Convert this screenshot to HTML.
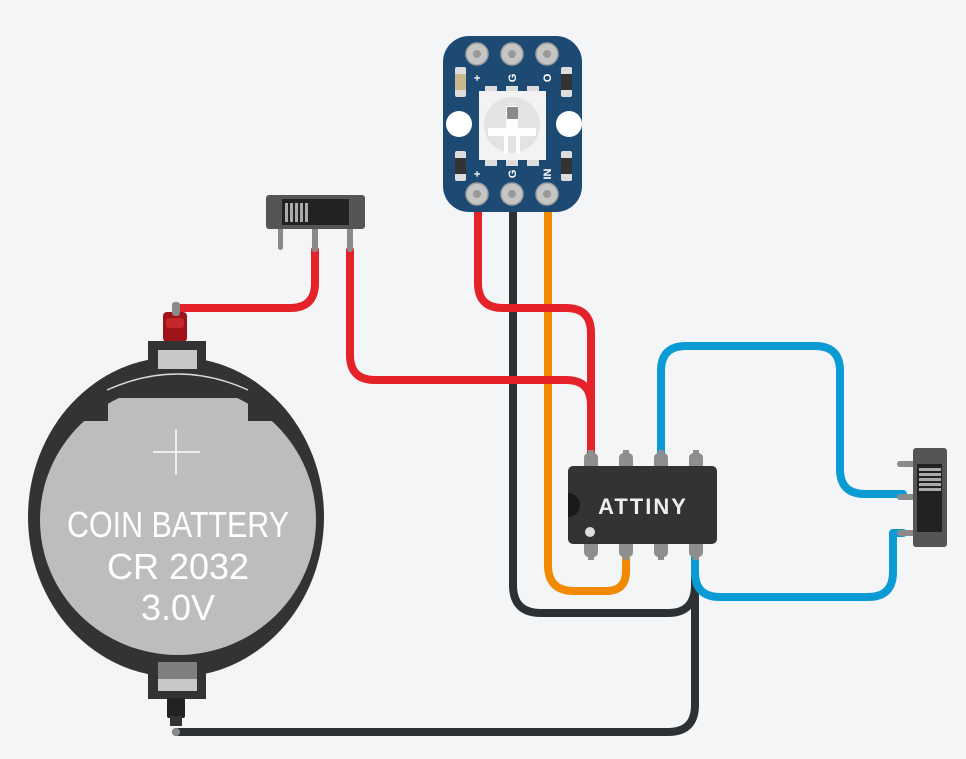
<!DOCTYPE html>
<html><head><style>body{margin:0;background:#f3f5f7}svg{display:block}</style></head>
<body>
<svg width="966" height="759" viewBox="0 0 966 759" xmlns="http://www.w3.org/2000/svg" font-family="Liberation Sans, sans-serif">
<defs><clipPath id="bc"><ellipse cx="176" cy="517" rx="148" ry="160"/></clipPath></defs>
<rect width="966" height="759" fill="#f3f5f7"/>
<g fill="none" stroke-linecap="round" stroke-linejoin="round">
<path d="M513 205 V585 Q513 613 541 613 H668 Q695 613 695 585 V556" stroke="#2e3134" stroke-width="8"/>
<path d="M176 732 H668 Q695 732 695 705 V556" stroke="#2e3134" stroke-width="8"/>
<path d="M548 205 V565 Q548 591 574 591 H606 Q626 591 626 571 V556" stroke="#f28a00" stroke-width="8"/>
<path d="M478 205 V283 Q478 308 503 308 H566 Q591 308 591 333 V456" stroke="#e52229" stroke-width="8"/>
<path d="M350 250 V355 Q350 380 375 380 H566 Q591 380 591 405 V456" stroke="#e52229" stroke-width="8"/>
<path d="M177 308 H290 Q315 308 315 283 V250" stroke="#e52229" stroke-width="8"/>
<path d="M661 456 V371 Q661 346 686 346 H815 Q840 346 840 371 V469 Q840 494 865 494 H903" stroke="#0a9ad4" stroke-width="8"/>
<path d="M695 556 V572 Q695 597 720 597 H868 Q893 597 893 572 V533 H903" stroke="#0a9ad4" stroke-width="8"/>
</g>
<!-- battery -->
<rect x="163" y="312" width="24" height="30" rx="4" fill="#9e1419"/>
<rect x="166" y="318" width="18" height="10" rx="3" fill="#c5262b"/>
<rect x="172" y="302" width="8" height="14" rx="3" fill="#8a8a8a"/>
<ellipse cx="176" cy="517" rx="148" ry="160" fill="#333"/>
<rect x="148" y="341" width="58" height="32" fill="#333"/>
<rect x="148" y="655" width="58" height="44" fill="#333"/>
<ellipse cx="178" cy="520" rx="138" ry="135" fill="#bdbdbd"/>
<g clip-path="url(#bc)" fill="#333">
<rect x="20" y="340" width="88" height="81"/>
<rect x="248" y="340" width="90" height="81"/>
<rect x="100" y="340" width="156" height="58"/>
</g>
<path d="M107 390 Q178 358 248 390" stroke="#d8d8d8" stroke-width="1.5" fill="none"/>
<rect x="158" y="350" width="39" height="19" fill="#c8c8c8"/>
<rect x="158" y="662" width="39" height="17" fill="#7f7f7f"/>
<rect x="158" y="679" width="39" height="12" fill="#c8c8c8"/>
<rect x="167" y="698" width="18" height="20" rx="2" fill="#222"/>
<rect x="170" y="716" width="12" height="10" fill="#333"/>
<circle cx="176" cy="732" r="4" fill="#8a8a8a"/>
<path d="M176 429 V475 M153 452 H200" stroke="#fff" stroke-width="1.5"/>
<g fill="#fff" font-size="36" text-anchor="middle">
<text x="178" y="537" textLength="222" lengthAdjust="spacingAndGlyphs">COIN BATTERY</text>
<text x="178" y="579">CR 2032</text>
<text x="178" y="620">3.0V</text>
</g>
<!-- top switch -->
<rect x="278" y="222" width="5" height="28" rx="2.5" fill="#8a8a8a"/>
<rect x="312" y="222" width="6" height="30" rx="2.5" fill="#8a8a8a"/>
<rect x="347" y="222" width="6" height="30" rx="2.5" fill="#8a8a8a"/>
<rect x="266" y="195" width="99" height="34" rx="3" fill="#555"/>
<rect x="282" y="199" width="67" height="26" fill="#222"/>
<g fill="#aaa"><rect x="285" y="203" width="3" height="19"/><rect x="290" y="203" width="3" height="19"/><rect x="295" y="203" width="3" height="19"/><rect x="300" y="203" width="3" height="19"/><rect x="305" y="203" width="3" height="19"/></g>
<!-- LED board -->
<rect x="443" y="36" width="139" height="176" rx="26" fill="#1d4a73"/>
<g fill="#c5c5c5" stroke="#9d9d9d" stroke-width="1.5">
<circle cx="477" cy="54" r="11"/><circle cx="512" cy="54" r="11"/><circle cx="547" cy="54" r="11"/>
<circle cx="477" cy="194" r="11"/><circle cx="512" cy="194" r="11"/><circle cx="547" cy="194" r="11"/>
</g>
<g fill="#999"><circle cx="477" cy="54" r="4"/><circle cx="512" cy="54" r="4"/><circle cx="547" cy="54" r="4"/><circle cx="477" cy="194" r="4"/><circle cx="512" cy="194" r="4"/><circle cx="547" cy="194" r="4"/></g>
<circle cx="459" cy="124" r="13" fill="#fff"/><circle cx="569" cy="124" r="13" fill="#fff"/>
<rect x="455" y="67" width="11" height="30" rx="2" fill="#ddd"/><rect x="455" y="74" width="11" height="16" fill="#c7b98a"/>
<rect x="561" y="67" width="11" height="30" rx="2" fill="#ddd"/><rect x="561" y="74" width="11" height="16" fill="#333"/>
<rect x="455" y="151" width="11" height="30" rx="2" fill="#ddd"/><rect x="455" y="158" width="11" height="16" fill="#333"/>
<rect x="561" y="151" width="11" height="30" rx="2" fill="#ddd"/><rect x="561" y="158" width="11" height="16" fill="#333"/>
<g fill="#ddd"><rect x="485" y="86" width="12" height="8"/><rect x="506" y="86" width="12" height="8"/><rect x="527" y="86" width="12" height="8"/><rect x="485" y="158" width="12" height="8"/><rect x="506" y="158" width="12" height="8"/><rect x="527" y="158" width="12" height="8"/></g>
<rect x="479" y="91" width="67" height="69" fill="#f3f3f3"/>
<circle cx="512" cy="125" r="28" fill="#e3e3e3"/>
<path d="M498 106 h8 v22 h-18 v8 h16 v18 h4 v-18 h8 v18 h4 v-18 h16 v-8 h-18 v-22 h8 z" fill="#fff" opacity="0.9"/>
<rect x="507" y="107" width="11" height="12" fill="#8a8a8a"/>
<g fill="#fff" font-size="11" font-weight="bold" text-anchor="middle">
<text x="477" y="82" transform="rotate(-90 477 78)">+</text>
<text x="512" y="82" transform="rotate(-90 512 78)">G</text>
<text x="547" y="82" transform="rotate(-90 547 78)">O</text>
<text x="477" y="178" transform="rotate(-90 477 174)">+</text>
<text x="512" y="178" transform="rotate(-90 512 174)">G</text>
<text x="547" y="178" transform="rotate(-90 547 174)">IN</text>
</g>
<!-- ATTINY -->
<g fill="#8e8e8e">
<path d="M584 466 V458 Q584 454 588 453 V450 h6 v3 Q598 454 598 458 V466 Z"/>
<path d="M619 466 V458 Q619 454 623 453 V450 h6 v3 Q633 454 633 458 V466 Z"/>
<path d="M654 466 V458 Q654 454 658 453 V450 h6 v3 Q668 454 668 458 V466 Z"/>
<path d="M689 466 V458 Q689 454 693 453 V450 h6 v3 Q703 454 703 458 V466 Z"/>
<path d="M584 544 V552 Q584 556 588 557 V560 h6 v-3 Q598 556 598 552 V544 Z"/>
<path d="M619 544 V552 Q619 556 623 557 V560 h6 v-3 Q633 556 633 552 V544 Z"/>
<path d="M654 544 V552 Q654 556 658 557 V560 h6 v-3 Q668 556 668 552 V544 Z"/>
<path d="M689 544 V552 Q689 556 693 557 V560 h6 v-3 Q703 556 703 552 V544 Z"/>
</g>
<rect x="568" y="466" width="149" height="78" rx="5" fill="#333"/>
<path d="M568 493 A12 12 0 0 1 568 517 Z" fill="#1a1a1a"/>
<circle cx="590" cy="532" r="5" fill="#ddd"/>
<text x="643" y="514" fill="#eee" font-size="22" font-weight="bold" text-anchor="middle" letter-spacing="2">ATTINY</text>
<!-- right switch -->
<g fill="#8a8a8a"><rect x="897" y="461" width="20" height="6" rx="3"/><rect x="897" y="494" width="20" height="6" rx="3"/><rect x="897" y="530" width="20" height="6" rx="3"/></g>
<rect x="913" y="448" width="34" height="99" rx="3" fill="#555"/>
<rect x="917" y="464" width="25" height="68" fill="#222"/>
<g fill="#aaa"><rect x="919" y="468" width="22" height="3"/><rect x="919" y="473" width="22" height="3"/><rect x="919" y="478" width="22" height="3"/><rect x="919" y="483" width="22" height="3"/><rect x="919" y="488" width="22" height="3"/></g>
</svg>
</body></html>
